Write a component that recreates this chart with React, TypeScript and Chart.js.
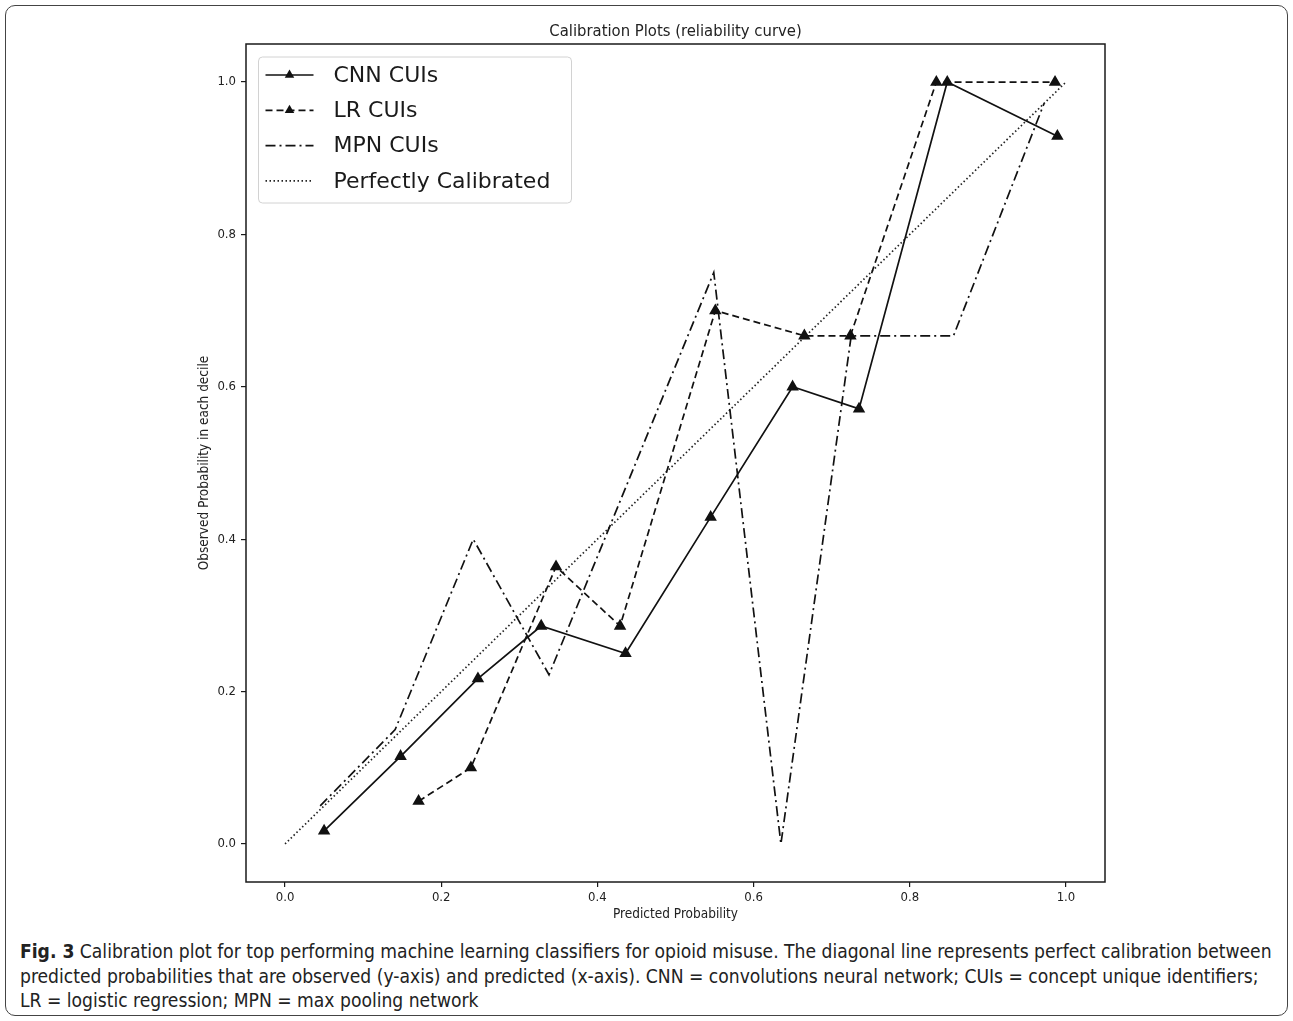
import React, { useEffect, useRef } from "react";
import { Chart, registerables } from "chart.js";

Chart.register(...registerables);

// ---- data ----
const chartTitle = "Calibration Plots (reliability curve)";
const xAxisTitle = "Predicted Probability";
const yAxisTitle = "Observed Probability in each decile";

const cnnLabel = "CNN CUIs";
const cnnX = [0.05, 0.148, 0.247, 0.328, 0.436, 0.545, 0.65, 0.735, 0.848, 0.989];
const cnnY = [0.017, 0.115, 0.217, 0.286, 0.25, 0.429, 0.6, 0.571, 1.0, 0.929];

const lrLabel = "LR CUIs";
const lrX = [0.171, 0.238, 0.347, 0.429, 0.551, 0.665, 0.724, 0.834, 0.986];
const lrY = [0.056, 0.1, 0.364, 0.286, 0.7, 0.667, 0.667, 1.0, 1.0];

const mpnLabel = "MPN CUIs";
const mpnX = [0.045, 0.141, 0.241, 0.338, 0.549, 0.635, 0.725, 0.856, 0.972];
const mpnY = [0.05, 0.15, 0.4, 0.222, 0.75, 0.0, 0.667, 0.667, 0.972];

const perfLabel = "Perfectly Calibrated";
const perfX = [0, 1];
const perfY = [0, 1];

const axisMin = -0.05;
const axisMax = 1.05;
const tickStep = 0.2;

const captionLines = [
  "Calibration plot for top performing machine learning classifiers for opioid misuse. The diagonal line represents perfect calibration between",
  "predicted probabilities that are observed (y-axis) and predicted (x-axis). CNN = convolutions neural network; CUIs = concept unique identifiers;",
  "LR = logistic regression; MPN = max pooling network",
];

const smallFont = '"DejaVu Sans Condensed", "DejaVu Sans", sans-serif';

const zip = (xs: number[], ys: number[]) => xs.map((x, i) => ({ x, y: ys[i] }));

const frameAndLegend = {
  id: "frameAndLegend",
  afterDraw(chart: any) {
    const { ctx, chartArea: a } = chart;
    ctx.save();
    // title centred over the axes
    ctx.fillStyle = "#222";
    ctx.font = `16.5px ${smallFont}`;
    ctx.textAlign = "center";
    ctx.textBaseline = "middle";
    ctx.fillText(chartTitle, (a.left + a.right) / 2, 32);

    // axes frame
    ctx.strokeStyle = "#1a1a1a";
    ctx.lineWidth = 1.5;
    ctx.setLineDash([]);
    ctx.strokeRect(a.left, a.top, a.right - a.left, a.bottom - a.top);

    // legend box
    const bx = a.left + 12.5;
    const by = a.top + 13;
    const bw = 313;
    const bh = 146;
    const r = 4;
    ctx.beginPath();
    ctx.moveTo(bx + r, by);
    ctx.lineTo(bx + bw - r, by);
    ctx.quadraticCurveTo(bx + bw, by, bx + bw, by + r);
    ctx.lineTo(bx + bw, by + bh - r);
    ctx.quadraticCurveTo(bx + bw, by + bh, bx + bw - r, by + bh);
    ctx.lineTo(bx + r, by + bh);
    ctx.quadraticCurveTo(bx, by + bh, bx, by + bh - r);
    ctx.lineTo(bx, by + r);
    ctx.quadraticCurveTo(bx, by, bx + r, by);
    ctx.closePath();
    ctx.fillStyle = "rgba(255,255,255,0.85)";
    ctx.fill();
    ctx.strokeStyle = "#d2d2d2";
    ctx.lineWidth = 1;
    ctx.stroke();

    chart.data.datasets.forEach((ds: any, i: number) => {
      const y = by + 18 + i * 35.3;
      ctx.beginPath();
      ctx.setLineDash(ds.borderDash || []);
      ctx.lineWidth = ds.borderWidth;
      ctx.strokeStyle = ds.borderColor;
      ctx.moveTo(bx + 7, y);
      ctx.lineTo(bx + 55, y);
      ctx.stroke();
      ctx.setLineDash([]);
      if (ds.pointRadius > 0) {
        const cx = bx + 31;
        const rr = ds.pointRadius;
        ctx.beginPath();
        ctx.moveTo(cx, y - rr);
        ctx.lineTo(cx + rr * 0.866, y + rr * 0.5);
        ctx.lineTo(cx - rr * 0.866, y + rr * 0.5);
        ctx.closePath();
        ctx.fillStyle = ds.pointBackgroundColor;
        ctx.fill();
      }
      ctx.fillStyle = "#1a1a1a";
      ctx.font = '22px "DejaVu Sans"';
      ctx.textAlign = "left";
      ctx.textBaseline = "middle";
      ctx.fillText(ds.label, bx + 75, y + 1);
    });
    ctx.restore();
  },
};

export default function App() {
  const ref = useRef<HTMLCanvasElement>(null);

  useEffect(() => {
    const common = {
      borderColor: "#111",
      pointBackgroundColor: "#111",
      pointBorderColor: "#111",
      pointStyle: "triangle",
      tension: 0,
      fill: false,
    };
    const chart = new Chart(ref.current as HTMLCanvasElement, {
      type: "line",
      data: {
        datasets: [
          { ...common, label: cnnLabel, data: zip(cnnX, cnnY), borderWidth: 1.7, borderDash: [], pointRadius: 5.5 },
          { ...common, label: lrLabel, data: zip(lrX, lrY), borderWidth: 1.7, borderDash: [7, 4], pointRadius: 5.5 },
          { ...common, label: mpnLabel, data: zip(mpnX, mpnY), borderWidth: 1.7, borderDash: [10, 4, 2, 4], pointRadius: 0 },
          { ...common, label: perfLabel, data: zip(perfX, perfY), borderWidth: 1.7, borderDash: [1.5, 2.5], pointRadius: 0, borderColor: "#222" },
        ],
      },
      options: {
        animation: false,
        responsive: false,
        devicePixelRatio: 1,
        layout: { padding: { left: 185, right: 188, top: 44, bottom: 0 } },
        plugins: {
          legend: { display: false },
          tooltip: { enabled: false },
          title: { display: false },
        },
        scales: {
          x: {
            type: "linear",
            min: axisMin,
            max: axisMax,
            border: { display: false },
            grid: { drawOnChartArea: false, drawTicks: true, tickLength: 5, color: "#1a1a1a", lineWidth: 1.2 },
            ticks: {
              stepSize: tickStep,
              includeBounds: false,
              padding: 3,
              color: "#222",
              font: { family: smallFont, size: 13 },
              maxRotation: 0,
              callback: (v: any) => Number(v).toFixed(1),
            },
            title: {
              display: true,
              text: xAxisTitle,
              color: "#222",
              font: { family: smallFont, size: 13.5 },
              padding: { top: 0, bottom: 7 },
            },
            afterFit: (s: any) => {
              s.height = 48;
            },
          },
          y: {
            type: "linear",
            min: axisMin,
            max: axisMax,
            border: { display: false },
            grid: { drawOnChartArea: false, drawTicks: true, tickLength: 5, color: "#1a1a1a", lineWidth: 1.2 },
            ticks: {
              stepSize: tickStep,
              includeBounds: false,
              padding: 5,
              color: "#222",
              font: { family: smallFont, size: 13 },
              callback: (v: any) => Number(v).toFixed(1),
            },
            title: {
              display: true,
              text: yAxisTitle,
              color: "#222",
              font: { family: smallFont, size: 13.5 },
              padding: { top: 11, bottom: 0 },
            },
            afterFit: (s: any) => {
              s.width = 61;
            },
          },
        },
      },
      plugins: [frameAndLegend],
    } as any);
    return () => chart.destroy();
  }, []);

  return (
    <div style={{ position: "absolute", left: 0, top: 0, width: 1293, height: 1021, background: "#fff", overflow: "hidden" }}>
      <div
        style={{
          position: "absolute",
          left: 5,
          top: 5,
          width: 1283,
          height: 1011,
          border: "1.5px solid #444",
          borderRadius: 10,
          boxSizing: "border-box",
        }}
      />
      <canvas ref={ref} width={1293} height={930} style={{ position: "absolute", left: 0, top: 0, width: 1293, height: 930 }} />
      <div
        style={{
          position: "absolute",
          left: 20,
          top: 940,
          fontFamily: '"Liberation Sans Narrow", "DejaVu Sans Condensed", sans-serif',
          fontSize: 19.1,
          lineHeight: "24.5px",
          color: "#222",
          whiteSpace: "nowrap",
        }}
      >
        <div>
          <b>Fig. 3</b> {captionLines[0]}
        </div>
        <div>{captionLines[1]}</div>
        <div>{captionLines[2]}</div>
      </div>
    </div>
  );
}
